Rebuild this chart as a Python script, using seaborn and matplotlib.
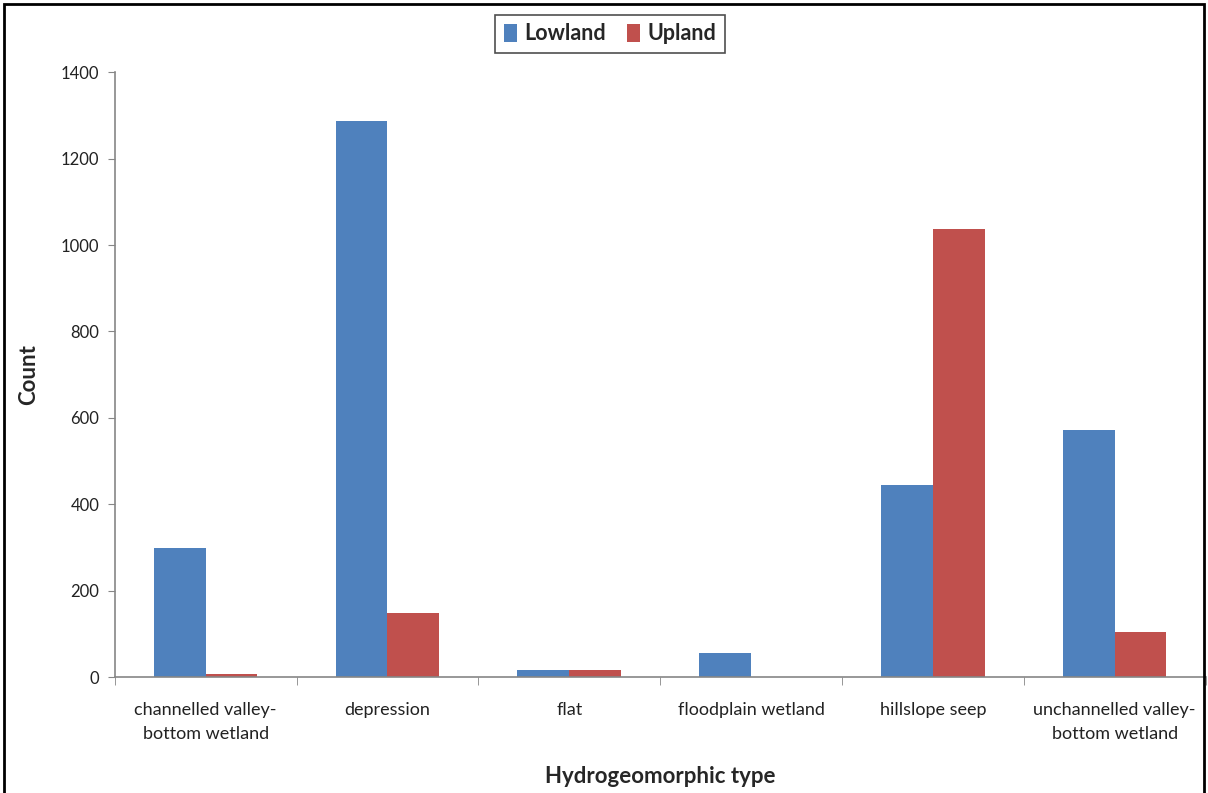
import pandas as pd
import seaborn as sns
import matplotlib.pyplot as plt
from matplotlib.patches import Rectangle
from matplotlib.ticker import FixedLocator

# values
categories = [
    "channelled valley-\nbottom wetland",
    "depression",
    "flat",
    "floodplain wetland",
    "hillslope seep",
    "unchannelled valley-\nbottom wetland",
]
lowland = [298, 1288, 16, 55, 444, 572]
upland = [7, 148, 16, 0, 1037, 104]
series = ["Lowland", "Upland"]
colors = ["#4F81BD", "#C0504D"]

df = pd.DataFrame({
    "type": categories * 2,
    "count": lowland + upland,
    "zone": ["Lowland"] * len(categories) + ["Upland"] * len(categories),
})

sns.set_style("white")
plt.rcParams["font.family"] = ["Lato", "DejaVu Sans"]

fig = plt.figure(figsize=(12.08, 7.93), dpi=100)
ax = fig.add_axes([0.095, 0.146, 0.903, 0.763])

sns.barplot(
    data=df, x="type", y="count", hue="zone", hue_order=series,
    palette=colors, width=0.57, gap=0, saturation=1, ax=ax,
    edgecolor="none",
)

ax.set_ylim(0, 1400)
ax.set_yticks(range(0, 1401, 200))
ax.set_xlim(-0.5, len(categories) - 0.5)

for side in ["top", "right"]:
    ax.spines[side].set_visible(False)
for side in ["left", "bottom"]:
    ax.spines[side].set_color("#868686")
    ax.spines[side].set_linewidth(1.2)

ax.tick_params(axis="y", left=True, length=5, color="#868686",
               labelsize=12, labelcolor="#222222", pad=6)
ax.tick_params(axis="x", which="major", length=0, labelsize=13,
               labelcolor="#222222", pad=18)
for lbl in ax.get_xticklabels():
    lbl.set_linespacing(1.6)
ax.xaxis.set_minor_locator(FixedLocator([i - 0.5 for i in range(len(categories) + 1)]))
ax.tick_params(axis="x", which="minor", bottom=True, length=6, color="#868686")

ax.set_xlabel("Hydrogeomorphic type", fontsize=16, fontweight="bold", labelpad=17)
ax.set_ylabel("Count", fontsize=16, fontweight="bold", labelpad=16)

leg = ax.legend(
    loc="upper center", bbox_to_anchor=(0.505, 0.995),
    bbox_transform=fig.transFigure, ncol=2, frameon=True, fancybox=False,
    prop={"weight": "bold", "size": 15.5}, handlelength=0.6, handleheight=0.9,
    handletextpad=0.35, columnspacing=1.0, borderpad=0.4,
)
leg.get_frame().set_edgecolor("#222222")
leg.get_frame().set_linewidth(1.2)
leg.set_title(None)

# outer frame of the figure
fig.patches.append(Rectangle((0.003, -0.02), 0.994, 1.015, transform=fig.transFigure,
                             fill=False, edgecolor="black", linewidth=2))

fig.savefig("out.png", dpi=100)
